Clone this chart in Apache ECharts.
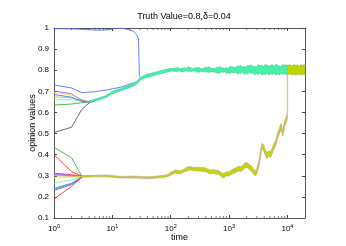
<!DOCTYPE html>
<html><head><meta charset="utf-8">
<script src="https://cdn.jsdelivr.net/npm/echarts@6/dist/echarts.min.js"></script>
<style>html,body{margin:0;padding:0;background:#fff}#c{width:346px;height:246px}</style>
</head><body><div id="c"></div>
<script>
// ---- data ----
var titleText = 'Truth Value=0.8,\u03b4=0.04';
var xTicks = [1, 10, 100, 1000, 10000];
var xMinorTicks = [2,3,4,5,6,7,8,9,20,30,40,50,60,70,80,90,200,300,400,500,600,700,800,900,2000,3000,4000,5000,6000,7000,8000,9000];

// early individual opinion traces (time, value)
var upBlueTop = [[1,0.997],[2,0.996],[3,0.994],[5,0.99],[7,0.99],[9,0.993],[11,0.998],[14,0.999],[17,0.995],[20,0.99],[23,0.985],[26,0.968],[28,0.95],[29,0.777],[30,0.77]];
var upBlue2 = [[1,0.73],[2,0.716],[3,0.694],[4,0.696],[5,0.698],[6,0.702],[8,0.706],[10,0.712],[12,0.716],[14,0.72],[16,0.726],[18,0.731],[20,0.735],[22,0.737],[24,0.741],[26,0.745],[28,0.752],[29,0.758],[30,0.766]];
var upMagenta = [[1,0.702],[2,0.688],[3,0.657],[4,0.651]];
var upYellow = [[1,0.695],[2,0.682],[3,0.66],[4,0.651]];
var upBlue3 = [[1,0.685],[2,0.672],[3,0.653],[4,0.65]];
var upLime = [[1,0.675],[2,0.668],[3,0.655],[4,0.651]];
var upCyan = [[1,0.66],[2,0.66],[3,0.653],[4,0.651]];
var upGreen = [[1,0.635],[2,0.64],[3,0.646],[4,0.649]];
var upGray = [[1,0.505],[2,0.53],[3,0.615],[4,0.645],[5,0.656]];

var loGreen = [[1,0.435],[2,0.385],[3,0.298]];
var loRed1 = [[1,0.40],[2,0.32],[3,0.298]];
var loRed2 = [[1,0.312],[2,0.305],[3,0.299]];
var loMagenta = [[1,0.31],[2,0.302],[3,0.298]];
var loBlue1 = [[1,0.305],[2,0.30],[3,0.298]];
var loOrange = [[1,0.30],[2,0.298],[3,0.297]];
var loYellow = [[1,0.29],[2,0.292],[3,0.296]];
var loCyan = [[1,0.265],[2,0.28],[3,0.296]];
var loGreen2 = [[1,0.24],[2,0.265],[3,0.294]];
var loPurple = [[1,0.235],[2,0.262],[3,0.293]];
var loBlue2 = [[1,0.23],[2,0.258],[3,0.292]];
var loRed3 = [[1,0.19],[2,0.25],[3,0.292]];

// upper consensus band (green): time, upper edge, lower edge
var gT = [4,5,6,7,8,10,12,14,16,18,20,23,26,30,33,36,40,45,50,55,60,70,80,90,
  100,107,115,123,132,141,151,162,174,186,200,214,229,245,263,282,302,324,347,372,398,427,457,490,525,562,603,646,692,741,794,851,912,977,
  1047,1122,1202,1288,1380,1479,1585,1698,1820,1950,2089,2239,2399,2570,2754,2951,3162,3388,3631,3890,4169,4467,4786,5129,5495,5888,6310,6761,7244,7762,8318,8913,9550,10000];
var gHi = [0.655,0.663,0.670,0.676,0.682,0.700,0.708,0.714,0.720,0.726,0.731,0.738,0.746,0.766,0.772,0.776,0.782,0.785,0.788,0.791,0.794,0.799,0.803,0.806,
  0.809,0.807,0.811,0.809,0.813,0.806,0.808,0.810,0.812,0.808,0.816,0.812,0.809,0.807,0.812,0.810,0.814,0.808,0.806,0.809,0.815,0.812,0.817,0.808,0.810,0.806,0.814,0.811,0.818,0.810,0.812,0.808,0.813,0.807,
  0.820,0.814,0.816,0.810,0.821,0.818,0.824,0.814,0.819,0.813,0.823,0.820,0.826,0.816,0.818,0.815,0.827,0.821,0.825,0.816,0.828,0.823,0.819,0.822,0.827,0.818,0.828,0.824,0.820,0.818,0.827,0.823,0.826,0.822];
var gLo = [0.647,0.654,0.660,0.666,0.672,0.689,0.697,0.703,0.708,0.713,0.718,0.725,0.733,0.752,0.758,0.762,0.767,0.770,0.774,0.777,0.780,0.785,0.789,0.792,
  0.795,0.797,0.793,0.796,0.794,0.797,0.791,0.793,0.795,0.797,0.794,0.796,0.793,0.797,0.795,0.791,0.790,0.795,0.792,0.795,0.790,0.793,0.788,0.794,0.790,0.793,0.786,0.789,0.785,0.793,0.790,0.794,0.784,0.788,
  0.785,0.792,0.786,0.791,0.782,0.787,0.784,0.791,0.780,0.785,0.782,0.790,0.784,0.788,0.779,0.783,0.781,0.788,0.778,0.782,0.780,0.787,0.777,0.783,0.779,0.786,0.777,0.781,0.778,0.786,0.780,0.784,0.778,0.781];

// final upper band (yellow-green)
var yT = [10000,11000,12000,13000,14000,15000,16000,17000,18000,19000,20000];
var yHi = [0.824,0.826,0.821,0.827,0.822,0.826,0.820,0.827,0.823,0.826,0.824];
var yLo = [0.779,0.782,0.777,0.781,0.776,0.781,0.778,0.780,0.776,0.781,0.779];

// lower band (yellow-green): time, upper edge, lower edge
var lT = [3,4,5,6,8,10,13,16,20,25,30,40,50,60,70,80,90,
  100,107,115,123,132,141,151,162,174,186,200,214,229,245,263,282,302,324,347,372,398,427,457,490,525,562,603,646,692,741,794,851,912,977,
  1047,1122,1202,1288,1380,1479,1585,1698,1820,1950,2089,2239,2399,2570,2754,2951,3162,3388,3631,3890,4169,4467,4786,5129,5495,5888,6310,6761,7244,7762,8318,8913,9550,10000];
var lHi = [0.301,0.302,0.302,0.303,0.304,0.301,0.298,0.297,0.298,0.298,0.297,0.295,0.297,0.299,0.301,0.303,0.307,
  0.317,0.321,0.325,0.329,0.325,0.324,0.326,0.330,0.333,0.339,0.341,0.344,0.342,0.339,0.342,0.338,0.341,0.339,0.338,0.339,0.336,0.333,0.329,0.327,0.330,0.328,0.325,0.327,0.322,0.315,0.310,0.314,0.320,0.318,
  0.324,0.328,0.333,0.337,0.341,0.346,0.341,0.349,0.357,0.364,0.360,0.352,0.347,0.337,0.324,0.330,0.358,0.398,0.453,0.448,0.423,0.408,0.418,0.413,0.433,0.453,0.468,0.503,0.523,0.548,0.513,0.558,0.578,0.598];
var lLo = [0.293,0.294,0.295,0.295,0.295,0.293,0.290,0.289,0.289,0.289,0.288,0.286,0.288,0.290,0.292,0.293,0.297,
  0.303,0.307,0.311,0.313,0.311,0.308,0.312,0.314,0.319,0.323,0.325,0.328,0.326,0.323,0.325,0.322,0.323,0.323,0.320,0.321,0.318,0.315,0.311,0.309,0.312,0.310,0.307,0.309,0.304,0.295,0.290,0.294,0.300,0.298,
  0.304,0.308,0.311,0.315,0.319,0.324,0.319,0.327,0.333,0.340,0.336,0.328,0.323,0.313,0.300,0.306,0.332,0.372,0.427,0.422,0.397,0.382,0.392,0.387,0.407,0.427,0.442,0.477,0.497,0.522,0.487,0.532,0.552,0.572];

// jump of the lower cluster to the truth at t = 10^4
var jumpLine = [[10000,0.585],[10000,0.80]];

// ---- chart ----
var FONT = 'Liberation Sans';
function line(data, color, z) {
  return {type:'line', data:data, showSymbol:false, symbol:'none', silent:true, animation:false,
    lineStyle:{color:color, width:0.9}, z:z||2};
}
function band(t, lo, hi, fill, stroke, z) {
  return {type:'custom', coordinateSystem:'cartesian2d', data:[[t[0], lo[0]]], silent:true, animation:false, z:z,
    renderItem:function(params, api){
      var pts = [], i;
      for (i = 0; i < t.length; i++) pts.push(api.coord([t[i], hi[i]]));
      for (i = t.length - 1; i >= 0; i--) pts.push(api.coord([t[i], lo[i]]));
      return {type:'polygon', shape:{points:pts}, style:{fill:fill, stroke:stroke, lineWidth:0.6}};
    }};
}
var minorTickSeries = {type:'custom', coordinateSystem:'cartesian2d', silent:true, animation:false, z:10,
  data: xMinorTicks.map(function(t){return [t, 0.1];}),
  renderItem:function(params, api){
    var t = api.value(0);
    var b = api.coord([t, 0.1]), tp = api.coord([t, 1]);
    return {type:'group', children:[
      {type:'line', shape:{x1:b[0], y1:b[1], x2:b[0], y2:b[1]-2}, style:{stroke:'#444', lineWidth:0.7}},
      {type:'line', shape:{x1:tp[0], y1:tp[1], x2:tp[0], y2:tp[1]+2}, style:{stroke:'#444', lineWidth:0.7}}
    ]};
  }};

var axisLineStyle = {color:'#555', width:1};
var option = {
  animation:false,
  backgroundColor:'#fff',
  title:{text:titleText, left:179, top:7, textAlign:'center',
    textStyle:{fontFamily:FONT, fontSize:9, fontWeight:'normal', color:'#000'}},
  grid:{left:54, right:41, top:28, bottom:28, containLabel:false, outerBoundsMode:'none'},
  xAxis:[{
    type:'log', logBase:10, min:1, max:20000, position:'bottom',
    name:'time', nameLocation:'middle', nameGap:15, nameMoveOverlap:false,
    nameTextStyle:{fontFamily:FONT, fontSize:9, color:'#000'},
    axisLine:{lineStyle:axisLineStyle},
    axisTick:{inside:true, length:3, lineStyle:{color:'#444'}},
    splitLine:{show:false},
    axisLabel:{margin:5, color:'#000', fontFamily:FONT, fontSize:8,
      formatter:function(v){
        var e = Math.round(Math.log(v)/Math.LN10);
        if (Math.abs(Math.pow(10,e) - v) > 1e-6*v) return '';
        if (xTicks.indexOf(Math.pow(10,e)) < 0) return '';
        return '10{s|' + e + '}';
      },
      rich:{s:{fontSize:5.5, fontFamily:FONT, color:'#000', padding:[0,0,6,0]}}}
  },{
    type:'log', logBase:10, min:1, max:20000, position:'top',
    axisLine:{lineStyle:axisLineStyle},
    axisTick:{inside:true, length:3, lineStyle:{color:'#444'}},
    axisLabel:{show:false}, splitLine:{show:false}
  }],
  yAxis:[{
    type:'value', min:0.1, max:1, interval:0.1, position:'left',
    name:'opinion values', nameLocation:'middle', nameGap:17, nameRotate:90, nameMoveOverlap:false,
    nameTextStyle:{fontFamily:FONT, fontSize:9, color:'#000'},
    axisLine:{show:true, lineStyle:axisLineStyle},
    axisTick:{show:true, inside:true, length:3, lineStyle:{color:'#444'}},
    splitLine:{show:false},
    axisLabel:{margin:5, color:'#000', fontFamily:FONT, fontSize:8,
      formatter:function(v){ return String(Math.round(v*10)/10); }}
  },{
    type:'value', min:0.1, max:1, interval:0.1, position:'right',
    axisLine:{show:true, lineStyle:axisLineStyle},
    axisTick:{show:true, inside:true, length:3, lineStyle:{color:'#444'}},
    axisLabel:{show:false}, splitLine:{show:false}
  }],
  series:[
    line(upGray, '#5a5a5a'),
    line(upGreen, '#40b040'),
    line(upCyan, '#70f0d0'),
    line(upLime, '#9be060'),
    line(upBlue3, '#5070ff'),
    line(upYellow, '#e6e660'),
    line(upMagenta, '#c050f0'),
    line(upBlue2, '#5070ff', 3),
    line(upBlueTop, '#5070ff', 3),
    line(loGreen, '#40b040'),
    line(loRed1, '#ff3030'),
    line(loRed2, '#ff3030'),
    line(loMagenta, '#c050f0'),
    line(loBlue1, '#7070ff'),
    line(loOrange, '#f0a040'),
    line(loYellow, '#e6e660'),
    line(loCyan, '#70f0d0'),
    line(loGreen2, '#40b040'),
    line(loPurple, '#9070e0'),
    line(loBlue2, '#5070ff'),
    line(loRed3, '#ff3030'),
    band(gT, gLo, gHi, '#44f0aa', '#3cc890', 4),
    band(lT, lLo, lHi, '#c4d800', '#b89898', 4),
    {type:'line', data:jumpLine, showSymbol:false, symbol:'none', silent:true, animation:false,
      lineStyle:{color:'#d8c890', width:1.4}, z:5},
    band(yT, yLo, yHi, '#bcd400', '#a8b850', 6),
    minorTickSeries
  ]
};
var chart = echarts.init(document.getElementById('c'), null, {renderer:'canvas'});
chart.setOption(option);
</script>
</body></html>
